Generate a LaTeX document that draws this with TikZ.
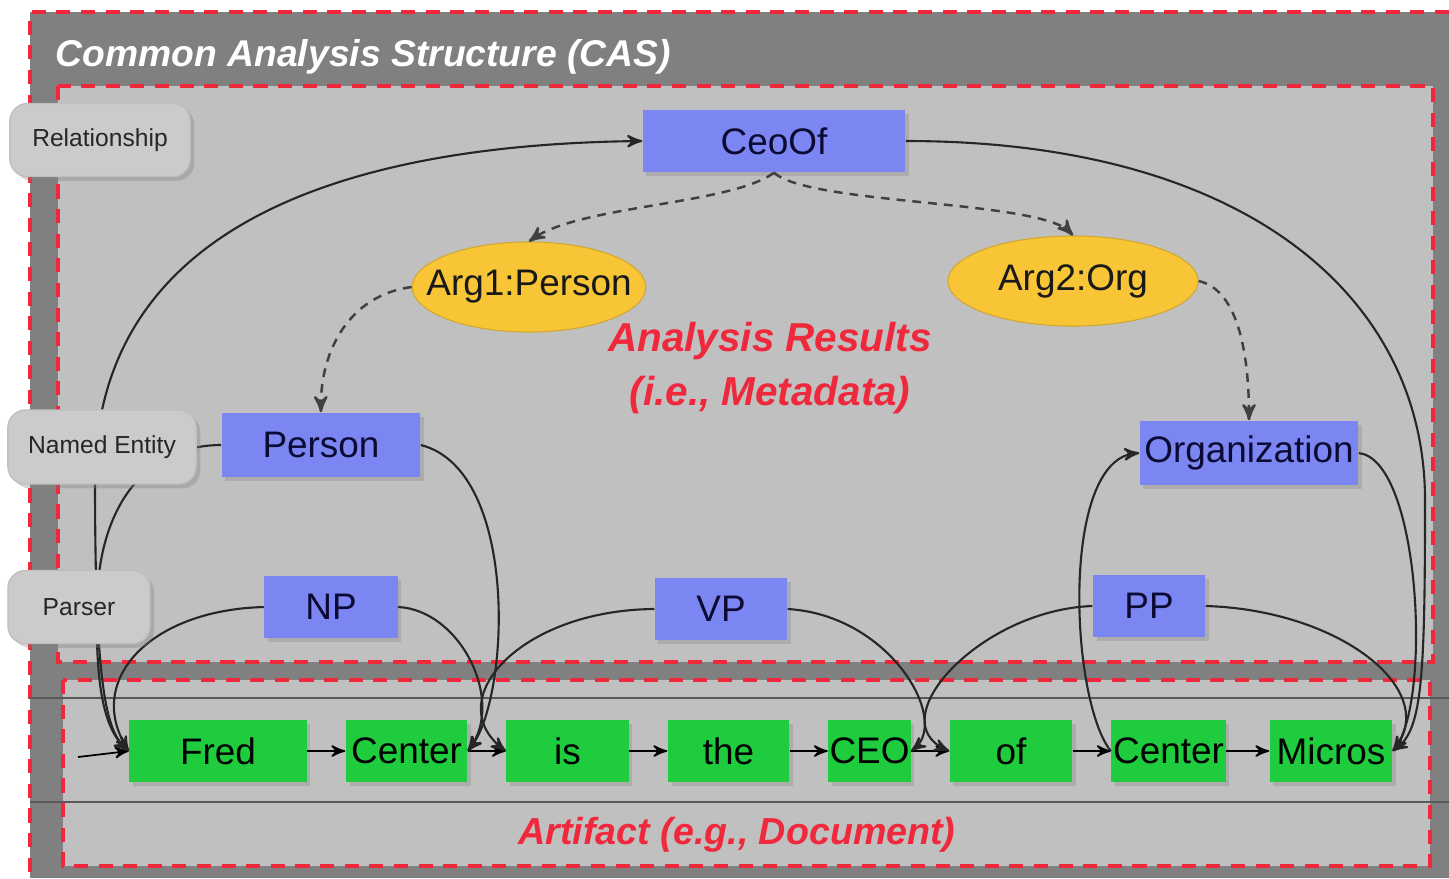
\documentclass[tikz,border=0pt]{standalone}
\usepackage{fontspec}
\setmainfont{Liberation Sans}
\usetikzlibrary{arrows,positioning,shadows,shapes.geometric}

\definecolor{casdark}{HTML}{808080}
\definecolor{caslight}{HTML}{C0C0C0}
\definecolor{casred}{HTML}{F0283C}
\definecolor{annblue}{HTML}{7B86F2}
\definecolor{annink}{HTML}{0A0A32}
\definecolor{tokgreen}{HTML}{1FCC3E}
\definecolor{argyellow}{HTML}{F7C535}
\definecolor{labelgray}{HTML}{CBCBCB}

\begin{document}
\begin{tikzpicture}[x=0.01cm,y=-0.01cm,>=stealth',
    border/.style={draw=casred,line width=1pt,dash pattern=on 4pt off 3pt},
    layer/.style={rounded corners=5pt,fill=labelgray,draw=black!25,text=black!85,
      drop shadow={opacity=0.35,shadow xshift=1.2pt,shadow yshift=-1.2pt},
      font=\fontsize{7}{8}\selectfont},
    annot/.style={fill=annblue,text=annink,inner sep=0pt,minimum height=0.62cm,
      drop shadow={opacity=0.3,shadow xshift=1pt,shadow yshift=-1pt},
      font=\fontsize{10.5}{12}\selectfont},
    argnode/.style={ellipse,fill=argyellow,draw=argyellow!85!black,line width=0.3pt,
      inner xsep=-0.2cm,inner ysep=0pt,minimum height=0.9cm,text=black!90,
      font=\fontsize{10.5}{12}\selectfont},
    token/.style={fill=tokgreen,text=black,inner sep=0pt,minimum height=0.62cm,
      drop shadow={opacity=0.3,shadow xshift=1pt,shadow yshift=-1pt},
      font=\fontsize{10.5}{12}\selectfont},
    span/.style={draw=black!85,line width=0.6pt},
    arg/.style={->,draw=black!75,line width=0.7pt,dash pattern=on 2.5pt off 2pt},
    next/.style={->,draw=black,line width=0.5pt},
    banner/.style={font=\bfseries\itshape\fontsize{11.5}{15.5}\selectfont}]

  \useasboundingbox (0,0) rectangle (1449,878);
  \fill[casdark] (30,12) rectangle (1449,878);
  \draw[border] (1449,12) -- (30,12) -- (30,878);
  \filldraw[fill=caslight,border] (58,86) rectangle (1433,662);
  \filldraw[fill=caslight,border] (63,680) rectangle (1430,866);
  \draw[black!65,line width=0.6pt] (30,698) -- (1449,698) (30,802) -- (1449,802);

  \node[banner,font=\bfseries\itshape\fontsize{10.6}{12}\selectfont,anchor=west,
    inner sep=0pt,text=white] (title) at (55,57) {Common Analysis Structure (CAS)};
  \node[banner,text=casred,align=center] (results) at (770,368) {Analysis Results\\(i.e., Metadata)};
  \node[banner,font=\bfseries\itshape\fontsize{10.7}{12}\selectfont,
    text=casred] (artifact) at (737,835) {Artifact (e.g., Document)};

  \node[annot,minimum width=2.62cm] (ceoof) at (774,141) {CeoOf};
  \node[argnode,minimum width=2.32cm] (arg1) at (529,287) {Arg1:Person};
  \node[argnode,minimum width=2.5cm] (arg2) at (1073,281) {Arg2:Org};
  \node[annot,minimum width=1.98cm,minimum height=0.64cm] (person) at (321,445) {Person};
  \node[annot,minimum width=2.18cm,minimum height=0.64cm] (org) at (1249,453) {Organization};
  \node[annot,minimum width=1.33cm] (np) at (331,607) {NP};
  \node[annot,minimum width=1.32cm] (vp) at (721,609) {VP};
  \node[annot,minimum width=1.12cm] (pp) at (1149,606) {PP};

  \node[token,minimum width=1.77cm] (fred) at (218,751) {Fred};
  \node[token,minimum width=1.21cm] (center1) [right=0.38cm of fred] {Center};
  \node[token,minimum width=1.22cm] (is) [right=0.38cm of center1] {is};
  \node[token,minimum width=1.21cm] (the) [right=0.38cm of is] {the};
  \node[token,minimum width=0.82cm] (ceo) [right=0.38cm of the] {CEO};
  \node[token,minimum width=1.22cm] (of) [right=0.38cm of ceo] {of};
  \node[token,minimum width=1.14cm] (center2) [right=0.38cm of of] {Center};
  \node[token,minimum width=1.22cm] (micros) [right=0.43cm of center2] {Micros};
  \coordinate (start) at (78,757);

  \path (start) edge[next] (fred.west)
        (fred) edge[next] (center1)
        (center1) edge[next] (is)
        (is) edge[next] (the)
        (the) edge[next] (ceo)
        (ceo) edge[next] (of)
        (of) edge[next] (center2)
        (center2) edge[next] (micros);

  \draw[span,<->] (ceoof.west) .. controls (300,145) and (95,250) .. (95,480)
        .. controls (95,680) and (105,730) .. (fred.west);
  \draw[span,->] (ceoof.east) .. controls (1250,141) and (1425,300) .. (1425,500)
        .. controls (1425,680) and (1422,730) .. (micros.east);
  \draw[span,->] (person.west) .. controls (150,445) and (100,500) .. (97,600)
        .. controls (95,690) and (105,730) .. (fred.west);
  \draw[span,->] (person.east) .. controls (520,470) and (510,700) .. (center1.east);
  \draw[span,->] (np.west) .. controls (150,610) and (85,680) .. (fred.west);
  \draw[span,->] (np.east) .. controls (460,610) and (505,700) .. (center1.east);
  \draw[span,->] (vp.west) .. controls (520,610) and (440,700) .. (is.west);
  \draw[span,->] (vp.east) .. controls (890,615) and (950,720) .. (ceo.east);
  \draw[span,->] (pp.west) .. controls (980,610) and (880,720) .. (of.west);
  \draw[span,->] (pp.east) .. controls (1340,610) and (1440,690) .. (micros.east);
  \draw[span,->] (center2.west) .. controls (1070,700) and (1060,460) .. (org.west);
  \draw[span,->] (org.east) .. controls (1420,460) and (1432,700) .. (micros.east);

  \draw[arg] (ceoof.south) .. controls (730,205) and (580,205) .. (arg1.north);
  \draw[arg] (ceoof.south) .. controls (810,205) and (1040,200) .. (arg2.north);
  \draw[arg] (arg1.west) .. controls (350,295) and (320,350) .. (person.north);
  \draw[arg] (arg2.east) .. controls (1240,290) and (1249,360) .. (org.north);

  \node[layer,minimum width=1.8cm,minimum height=0.73cm] (relation) at (100,140) {Relationship};
  \node[layer,minimum width=1.88cm,minimum height=0.74cm] (entity) at (102,447) {Named Entity};
  \node[layer,minimum width=1.42cm,minimum height=0.73cm] (parser) at (79,607) {Parser};

\end{tikzpicture}
\end{document}
